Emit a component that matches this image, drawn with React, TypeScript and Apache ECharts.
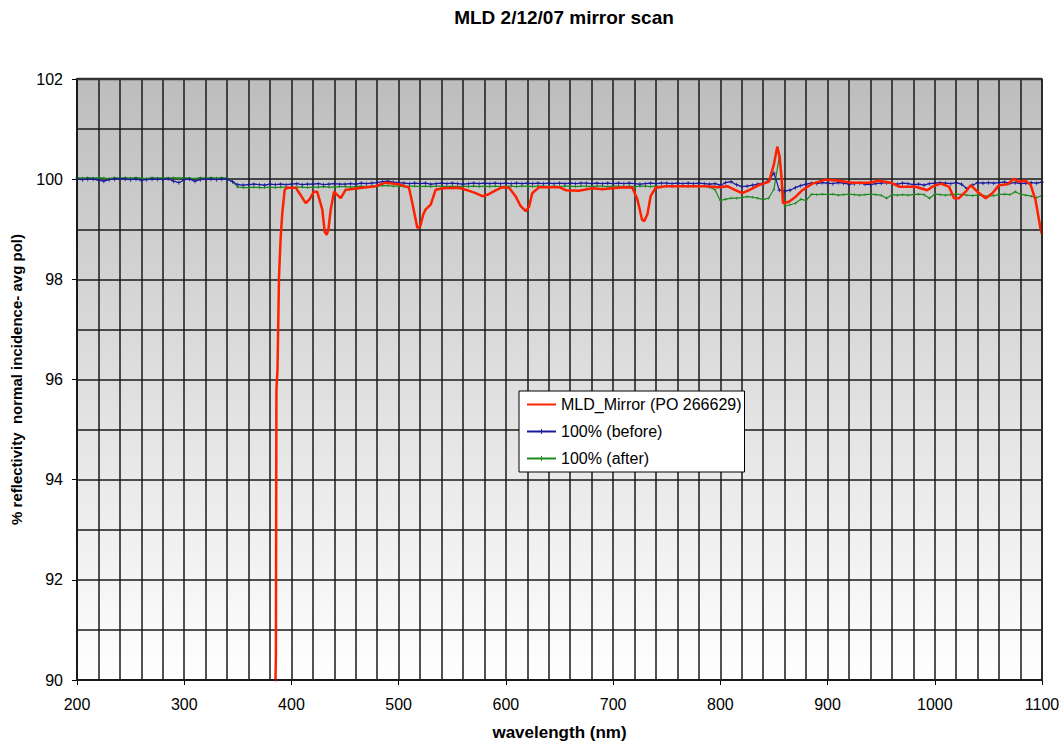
import React, { useEffect, useRef } from "react";
import * as echarts from "echarts";

// Sampling grid shared by the two 100% reference scans (nm)
const refWavelengths: number[] = Array.from({ length: 181 }, (_, i) => 200 + 5 * i);

// 100% (before) reference scan, one value per refWavelengths entry
const before: number[] = [
  100.0, 99.99, 100.0, 100.0, 99.98, 99.96, 99.99, 100.0, 100.01, 100.0,
  99.99, 100.0, 99.98, 99.99, 100.0, 100.0, 99.99, 100.01, 99.96, 99.93,
  99.99, 100.0, 99.96, 99.99, 100.0, 100.0, 99.99, 100.0, 100.0,
  99.95,
  99.89, 99.88, 99.89, 99.9, 99.89, 99.88, 99.9, 99.89, 99.9, 99.89,
  99.9, 99.91, 99.89, 99.9, 99.9, 99.91, 99.89, 99.9, 99.91, 99.9,
  99.9, 99.91, 99.9, 99.92, 99.91, 99.92, 99.93, 99.95, 99.96, 99.94,
  99.93, 99.92, 99.91, 99.92, 99.91, 99.92, 99.9, 99.91, 99.92, 99.91,
  99.92, 99.91, 99.9, 99.91, 99.92, 99.91, 99.92, 99.91, 99.92, 99.91,
  99.92, 99.91, 99.92, 99.91, 99.92, 99.91, 99.92, 99.91, 99.92, 99.91,
  99.92, 99.91, 99.92, 99.91, 99.92, 99.92, 99.91, 99.92, 99.91, 99.92,
  99.91, 99.92, 99.91, 99.92, 99.91, 99.9, 99.91, 99.92, 99.91, 99.92,
  99.92, 99.91, 99.92, 99.91, 99.92, 99.91, 99.92, 99.91, 99.9, 99.91,
  99.88, 99.93, 99.95, 99.89, 99.85, 99.86, 99.88, 99.9, 99.92, 99.97,
  100.12, 99.78, 99.76, 99.78, 99.83, 99.87, 99.9, 99.92, 99.91, 99.93,
  99.92, 99.91, 99.93, 99.92, 99.9, 99.91, 99.92, 99.9, 99.89, 99.91,
  99.92, 99.93, 99.91, 99.9, 99.92, 99.91, 99.89, 99.9, 99.88, 99.91,
  99.92, 99.93, 99.92, 99.91, 99.93, 99.9, 99.81, 99.88, 99.93, 99.92,
  99.93, 99.92, 99.93, 99.94, 99.92, 99.93, 99.91, 99.92, 99.93, 99.92,
  99.94,
];

// 100% (after) reference scan, one value per refWavelengths entry
const after: number[] = [
  100.03, 100.02, 100.03, 100.02, 100.03, 100.02, 100.01, 100.03, 100.02, 100.03,
  100.02, 100.03, 100.02, 100.01, 100.03, 100.02, 100.03, 100.02, 100.03, 100.02,
  100.03, 100.02, 100.01, 100.03, 100.02, 100.03, 100.02, 100.03, 100.02,
  99.95,
  99.84, 99.83, 99.83, 99.84, 99.83, 99.83, 99.84, 99.83, 99.84, 99.84,
  99.83, 99.84, 99.84, 99.83, 99.84, 99.84, 99.85, 99.84, 99.84, 99.85,
  99.85, 99.84, 99.85, 99.86, 99.85, 99.86, 99.86, 99.87, 99.87, 99.86,
  99.86, 99.85, 99.86, 99.86, 99.85, 99.86, 99.85, 99.86, 99.86, 99.85,
  99.86, 99.85, 99.86, 99.85, 99.86, 99.85, 99.86, 99.85, 99.86, 99.85,
  99.86, 99.86, 99.85, 99.86, 99.86, 99.85, 99.86, 99.86, 99.85, 99.86,
  99.85, 99.86, 99.86, 99.85, 99.86, 99.86, 99.85, 99.86, 99.86, 99.85,
  99.86, 99.86, 99.85, 99.86, 99.85, 99.86, 99.86, 99.85, 99.86, 99.85,
  99.86, 99.85, 99.86, 99.86, 99.85, 99.86, 99.85, 99.86, 99.84, 99.79,
  99.57, 99.6, 99.62, 99.62, 99.63, 99.65, 99.64, 99.62, 99.59, 99.62,
  99.8, 100.45, 99.46, 99.49, 99.52, 99.6, 99.57, 99.7, 99.69, 99.7,
  99.69, 99.7, 99.68, 99.69, 99.7, 99.69, 99.68, 99.69, 99.7, 99.69,
  99.68, 99.62, 99.69, 99.68, 99.69, 99.68, 99.69, 99.7, 99.69, 99.62,
  99.7, 99.69, 99.68, 99.69, 99.7, 99.69, 99.68, 99.67, 99.68, 99.67,
  99.66, 99.67, 99.69, 99.7, 99.69, 99.75, 99.7, 99.68, 99.66, 99.63,
  99.68,
];

// MLD mirror scan: wavelength (nm) and reflectivity (%)
const mirrorNm: number[] = [
  382, 385.5, 386, 387, 388.4, 390, 391.5, 393.7, 396, 404,
  408, 413.3, 417, 421, 424, 428.8, 431, 432.9, 434.5, 436.6,
  439.7, 443, 446, 450.6, 455, 466, 478.6, 487.9, 500, 509.6,
  512, 514, 517.4, 520, 523, 525, 529.9, 534.5, 541, 556,
  562.5, 571.8, 578, 584, 590, 596.7, 603, 609, 613.8, 618.5,
  621.6, 624.6, 631, 649.6, 655.8, 668, 680.6, 689.9, 699, 711.7,
  718, 722.6, 727, 729, 732, 735, 739.7, 749, 767.7, 786.3,
  798.8, 806.5, 814, 820.5, 826.8, 836, 845.4, 850, 853.1, 855.3,
  857.2, 858.4, 864, 870.3, 876.5, 885.8, 898.3, 910.7, 923, 938.7,
  948, 958.9, 966.7, 982.2, 993, 997.7, 1005.5, 1013.3, 1018, 1022.6,
  1028.8, 1033.5, 1039.7, 1047.5, 1053.7, 1060, 1067.7, 1074, 1078, 1084.8,
  1089.5, 1094, 1098.8, 1100,
];
const mirrorPct: number[] = [
  86, 90.5, 95.8, 96.2, 98.06, 98.86, 99.33, 99.79, 99.83, 99.83,
  99.7, 99.52, 99.6, 99.75, 99.75, 99.39, 98.95, 98.89, 99.0, 99.39,
  99.75, 99.68, 99.62, 99.79, 99.8, 99.83, 99.86, 99.93, 99.9, 99.83,
  99.6, 99.39, 99.03, 99.05, 99.3, 99.39, 99.49, 99.79, 99.82, 99.83,
  99.79, 99.72, 99.66, 99.7, 99.77, 99.84, 99.83, 99.66, 99.46, 99.36,
  99.45, 99.72, 99.84, 99.84, 99.78, 99.77, 99.82, 99.8, 99.82, 99.84,
  99.83, 99.6, 99.19, 99.16, 99.3, 99.66, 99.83, 99.86, 99.86, 99.86,
  99.84, 99.86, 99.78, 99.72, 99.78, 99.88, 99.95, 100.3, 100.65, 100.45,
  100.0, 99.52, 99.55, 99.65, 99.78, 99.91, 99.99, 99.97, 99.93, 99.93,
  99.97, 99.93, 99.85, 99.85, 99.78, 99.85, 99.91, 99.85, 99.62, 99.62,
  99.75, 99.88, 99.75, 99.62, 99.72, 99.88, 99.9, 100.01, 99.95, 99.97,
  99.88, 99.58, 98.99, 98.9,
];

const xTicks: number[] = [200, 300, 400, 500, 600, 700, 800, 900, 1000, 1100];
const yTicks: number[] = [90, 92, 94, 96, 98, 100, 102];

const FONT = "'Liberation Sans', Arial, sans-serif";
const PLUS = "path://M2,0h1v2h2v1h-2v2h-1v-2h-2v-1h2z";

export default function App() {
  const ref = useRef<HTMLDivElement>(null);

  useEffect(() => {
    if (!ref.current) return;
    const chart = echarts.init(ref.current, undefined, { renderer: "svg" });

    const pair = (xs: number[], ys: number[]) => xs.map((x, i) => [x, ys[i]]);

    chart.setOption({
      animation: false,
      backgroundColor: "#ffffff",
      title: {
        text: "MLD 2/12/07 mirror scan",
        left: 559,
        top: 3,
        textAlign: "center",
        textStyle: { fontFamily: FONT, fontSize: 19, fontWeight: "bold", color: "#000" },
      },
      grid: {
        left: 77,
        right: 20,
        top: 79,
        bottom: 64,
        containLabel: false,
        outerBoundsMode: "none",
        show: true,
        borderWidth: 0,
        backgroundColor: new echarts.graphic.LinearGradient(0, 0, 0, 1, [
          { offset: 0, color: "#bdbdbd" },
          { offset: 0.55, color: "#e2e2e2" },
          { offset: 1, color: "#ffffff" },
        ]),
      },
      legend: {
        orient: "vertical",
        left: 519,
        top: 391,
        backgroundColor: "#ffffff",
        borderColor: "#000000",
        borderWidth: 1,
        padding: [5, 3, 5, 7],
        itemGap: 10,
        itemWidth: 29,
        itemHeight: 6,
        textStyle: { fontFamily: FONT, fontSize: 16, color: "#000", lineHeight: 17 },
        data: [
          { name: "MLD_Mirror (PO 266629)", itemStyle: { opacity: 0 } },
          "100% (before)",
          "100% (after)",
        ],
      },
      xAxis: {
        type: "value",
        min: 200,
        max: 1100,
        interval: 100,
        name: "wavelength (nm)",
        nameLocation: "middle",
        nameGap: 44,
        nameTextStyle: { fontFamily: FONT, fontSize: 17, fontWeight: "bold", color: "#000" },
        axisLine: { show: true, onZero: false, lineStyle: { color: "#000", width: 2 } },
        axisTick: { show: true, length: 5, lineStyle: { color: "#000", width: 1 } },
        axisLabel: {
          fontFamily: FONT,
          fontSize: 16,
          color: "#000",
          margin: 16,
          formatter: (v: number) => (xTicks.includes(v) ? String(v) : ""),
        },
        splitLine: { show: true, lineStyle: { color: "#1a1a1a", width: 1.5 } },
        minorTick: { show: false, splitNumber: 5 },
        minorSplitLine: { show: true, lineStyle: { color: "#1a1a1a", width: 1.5 } },
      },
      yAxis: {
        type: "value",
        min: 90,
        max: 102,
        interval: 2,
        name: "% reflectivity  normal incidence- avg pol)",
        nameLocation: "middle",
        nameGap: 53,
        nameRotate: 90,
        nameTextStyle: { fontFamily: FONT, fontSize: 15, fontWeight: "bold", color: "#000" },
        axisLine: { show: true, onZero: false, lineStyle: { color: "#000", width: 2 } },
        axisTick: { show: true, length: 5, lineStyle: { color: "#000", width: 1 } },
        axisLabel: {
          fontFamily: FONT,
          fontSize: 16,
          color: "#000",
          margin: 14,
          formatter: (v: number) => (yTicks.includes(v) ? String(v) : ""),
        },
        splitLine: { show: true, lineStyle: { color: "#1a1a1a", width: 1.5 } },
        minorTick: { show: false, splitNumber: 2 },
        minorSplitLine: { show: true, lineStyle: { color: "#1a1a1a", width: 1.5 } },
      },
      graphic: [
        {
          type: "rect",
          z: 100,
          silent: true,
          shape: { x: 77, y: 79, width: 965, height: 601 },
          style: { fill: "none", stroke: "#222", lineWidth: 1.5 },
        },
        {
          type: "line",
          z: 100,
          silent: true,
          shape: { x1: 77, y1: 79, x2: 1042, y2: 79 },
          style: { stroke: "#333", lineWidth: 2.5 },
        },
      ],
      series: [
        {
          name: "100% (before)",
          type: "line",
          data: pair(refWavelengths, before),
          symbol: PLUS,
          symbolSize: 4,
          showSymbol: true,
          itemStyle: { color: "#1a1a9c" },
          lineStyle: { color: "#1a1a9c", width: 1.2 },
          z: 3,
        },
        {
          name: "100% (after)",
          type: "line",
          data: pair(refWavelengths, after),
          symbol: PLUS,
          symbolSize: 3,
          showSymbol: true,
          itemStyle: { color: "#1e8a1e" },
          lineStyle: { color: "#1e8a1e", width: 1.2 },
          z: 2,
        },
        {
          name: "MLD_Mirror (PO 266629)",
          type: "line",
          data: pair(mirrorNm, mirrorPct),
          symbol: "none",
          itemStyle: { color: "#ff2000" },
          lineStyle: { color: "#ff2000", width: 2.5 },
          clip: true,
          z: 4,
        },
      ],
    });

    return () => chart.dispose();
  }, []);

  return (
    <div
      ref={ref}
      style={{ position: "fixed", left: 0, top: 0, width: 1062, height: 744, background: "#fff" }}
    />
  );
}
